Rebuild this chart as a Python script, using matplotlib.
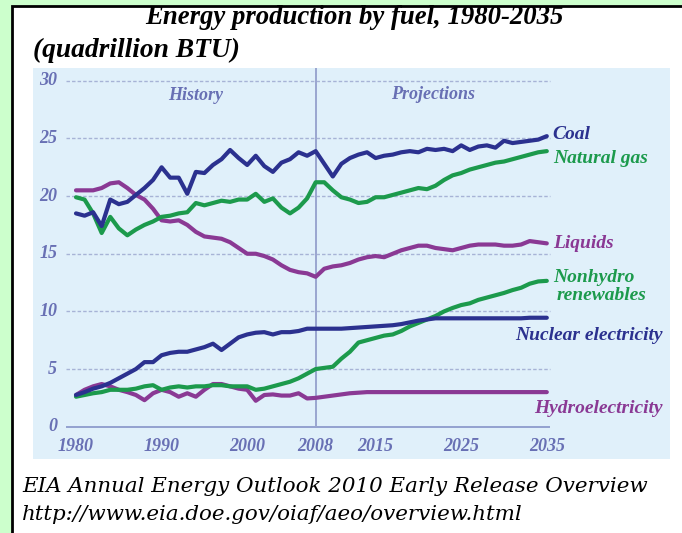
import matplotlib
matplotlib.use("Agg")
import matplotlib.pyplot as plt
from matplotlib.patches import Rectangle
import numpy as np

# --- data (quadrillion BTU), 1980-2008 history, 2009-2035 projections ---
years = list(range(1980, 2036))

coal = [18.5, 18.3, 18.6, 17.4, 19.7, 19.3, 19.5, 20.1, 20.7, 21.4,
        22.5, 21.6, 21.6, 20.2, 22.1, 22.0, 22.7, 23.2, 24.0, 23.3,
        22.7, 23.5, 22.6, 22.1, 22.9, 23.2, 23.8, 23.5, 23.9,
        22.8, 21.7, 22.8, 23.3, 23.6, 23.8, 23.3, 23.5, 23.6, 23.8,
        23.9, 23.8, 24.1, 24.0, 24.1, 23.9, 24.4, 24.0, 24.3, 24.4,
        24.2, 24.8, 24.6, 24.7, 24.8, 24.9, 25.2]
natural_gas = [19.9, 19.7, 18.5, 16.8, 18.2, 17.2, 16.6, 17.1, 17.5, 17.8,
               18.2, 18.3, 18.5, 18.6, 19.4, 19.2, 19.4, 19.6, 19.5, 19.7,
               19.7, 20.2, 19.5, 19.8, 19.0, 18.5, 19.0, 19.8, 21.2,
               21.2, 20.5, 19.9, 19.7, 19.4, 19.5, 19.9, 19.9, 20.1, 20.3,
               20.5, 20.7, 20.6, 20.9, 21.4, 21.8, 22.0, 22.3, 22.5, 22.7,
               22.9, 23.0, 23.2, 23.4, 23.6, 23.8, 23.9]
liquids = [20.5, 20.5, 20.5, 20.7, 21.1, 21.2, 20.7, 20.1, 19.7, 18.9,
           17.9, 17.8, 17.9, 17.5, 16.9, 16.5, 16.4, 16.3, 16.0, 15.5,
           15.0, 15.0, 14.8, 14.5, 14.0, 13.6, 13.4, 13.3, 13.0,
           13.7, 13.9, 14.0, 14.2, 14.5, 14.7, 14.8, 14.7, 15.0, 15.3,
           15.5, 15.7, 15.7, 15.5, 15.4, 15.3, 15.5, 15.7, 15.8, 15.8,
           15.8, 15.7, 15.7, 15.8, 16.1, 16.0, 15.9]
nonhydro = [2.6, 2.75, 2.9, 3.0, 3.2, 3.2, 3.2, 3.3, 3.5, 3.6,
            3.2, 3.4, 3.5, 3.4, 3.5, 3.5, 3.6, 3.6, 3.5, 3.5,
            3.5, 3.2, 3.3, 3.5, 3.7, 3.9, 4.2, 4.6, 5.0,
            5.1, 5.2, 5.9, 6.5, 7.3, 7.5, 7.7, 7.9, 8.0, 8.3,
            8.7, 9.0, 9.3, 9.6, 10.0, 10.3, 10.55, 10.7, 11.0, 11.2,
            11.4, 11.6, 11.85, 12.05, 12.4, 12.6, 12.65]
nuclear = [2.75, 3.0, 3.3, 3.5, 3.8, 4.2, 4.6, 5.0, 5.6, 5.6,
           6.2, 6.4, 6.5, 6.5, 6.7, 6.9, 7.2, 6.65, 7.2, 7.75,
           8.0, 8.15, 8.2, 8.0, 8.2, 8.2, 8.3, 8.5, 8.5,
           8.5, 8.5, 8.5, 8.55, 8.6, 8.65, 8.7, 8.75, 8.8, 8.9,
           9.05, 9.2, 9.3, 9.4, 9.4, 9.4, 9.4, 9.4, 9.4, 9.4,
           9.4, 9.4, 9.4, 9.4, 9.45, 9.45, 9.45]
hydro = [2.75, 3.2, 3.5, 3.7, 3.5, 3.2, 3.0, 2.75, 2.3, 2.9,
         3.2, 3.0, 2.6, 2.9, 2.6, 3.2, 3.7, 3.7, 3.5, 3.3,
         3.2, 2.25, 2.75, 2.8, 2.7, 2.7, 2.9, 2.45, 2.5,
         2.6, 2.7, 2.8, 2.9, 2.95, 3.0, 3.0, 3.0, 3.0, 3.0,
         3.0, 3.0, 3.0, 3.0, 3.0, 3.0, 3.0, 3.0, 3.0, 3.0,
         3.0, 3.0, 3.0, 3.0, 3.0, 3.0, 3.0]

ytick_vals = [0, 5, 10, 15, 20, 25, 30]
xtick_years = [1980, 1990, 2000, 2008, 2015, 2025, 2035]

# --- styles ---
BLUE = '#2b318f'
GREEN = '#1c9a4c'
PURPLE = '#8a3994'
AXIS_TXT = '#6870b4'
PANEL = '#e0f0fa'
SERIF = 'Liberation Serif'

W, H = 682, 533
fig = plt.figure(figsize=(W / 100, H / 100), dpi=100, facecolor='#ccffcc')

# white inner card with black border on left/top (behind everything)
fig.patches.append(Rectangle((12 / W, -0.1), 1.2, 1.1 - 6 / H, transform=fig.transFigure,
                             facecolor='white', edgecolor='black', linewidth=2.0, zorder=-10))

# axes placed over the light blue panel (pixels 33..670 x 68..459)
x0, x1, y0, y1 = 33, 670, 68, 459
ax = fig.add_axes([x0 / W, 1 - y1 / H, (x1 - x0) / W, (y1 - y0) / H])
px_yr, px_unit = 8.56, 11.53
ax.set_xlim(1980 - (76 - x0) / px_yr, 1980 + (x1 - 76) / px_yr)
ax.set_ylim(-(y1 - 426.7) / px_unit, (426.7 - y0) / px_unit)
ax.set_facecolor(PANEL)
for s in ax.spines.values():
    s.set_visible(False)
ax.set_xticks([])
ax.set_yticks([])

g_left, g_right = 1978.8, 2035.4
for v in ytick_vals[1:]:
    ax.hlines(v, g_left, g_right, colors='#a7b3d6', linewidth=1.0, linestyles=(0, (2.5, 1.5)), zorder=1)
ax.hlines(0, g_left, g_right, colors='#8e9bcc', linewidth=1.3, zorder=1)
ax.vlines(2008, 0, ax.get_ylim()[1], colors='#9aa5cf', linewidth=1.4, zorder=1)

for v in ytick_vals:
    ax.text(1977.8, v, str(v), ha='right', va='center', color=AXIS_TXT,
            fontsize=13, family=SERIF, style='italic', fontweight='bold')
for yr in xtick_years:
    ax.text(yr, -1.75, str(yr), ha='center', va='center', color=AXIS_TXT,
            fontsize=13, family=SERIF, style='italic', fontweight='bold')

ax.text(1994, 28.7, 'History', ha='center', va='center', color=AXIS_TXT,
        fontsize=13, family=SERIF, style='italic', fontweight='bold')
ax.text(2021.7, 28.8, 'Projections', ha='center', va='center', color=AXIS_TXT,
        fontsize=13, family=SERIF, style='italic', fontweight='bold')

lw = 3.0
for vals, col in [(hydro, PURPLE), (nonhydro, GREEN), (nuclear, BLUE),
                  (liquids, PURPLE), (natural_gas, GREEN), (coal, BLUE)]:
    ax.plot(years, vals, color=col, linewidth=lw, solid_joinstyle='round',
            solid_capstyle='round', zorder=3)

lab = dict(fontsize=14, family=SERIF, style='italic', fontweight='bold', va='center')
ax.text(2035.7, 25.3, 'Coal', color=BLUE, ha='left', **lab)
ax.text(2035.7, 23.3, 'Natural gas', color=GREEN, ha='left', **lab)
ax.text(2035.7, 15.9, 'Liquids', color=PURPLE, ha='left', **lab)
ax.text(2035.7, 12.9, 'Nonhydro', color=GREEN, ha='left', **lab)
ax.text(2036.1, 11.4, 'renewables', color=GREEN, ha='left', **lab)
ax.text(2048.5, 7.9, 'Nuclear electricity', color=BLUE, ha='right', **lab)
ax.text(2048.5, 1.6, 'Hydroelectricity', color=PURPLE, ha='right', **lab)

fig.text(354 / W, 1 - 18 / H, 'Energy production by fuel, 1980-2035', ha='center', va='center',
         fontsize=19.3, family=SERIF, style='italic', fontweight='bold', color='black')
fig.text(33 / W, 1 - 50 / H, '(quadrillion BTU)', ha='left', va='center',
         fontsize=19.8, family=SERIF, style='italic', fontweight='bold', color='black')

fig.text(22 / W, 1 - 487 / H, 'EIA Annual Energy Outlook 2010 Early Release Overview',
         ha='left', va='center', fontsize=15.4, family='DejaVu Serif', style='italic', color='black')
fig.text(22 / W, 1 - 515 / H, 'http://www.eia.doe.gov/oiaf/aeo/overview.html',
         ha='left', va='center', fontsize=15.4, family='DejaVu Serif', style='italic', color='black')

fig.savefig('out.png', dpi=100, facecolor=fig.get_facecolor())
